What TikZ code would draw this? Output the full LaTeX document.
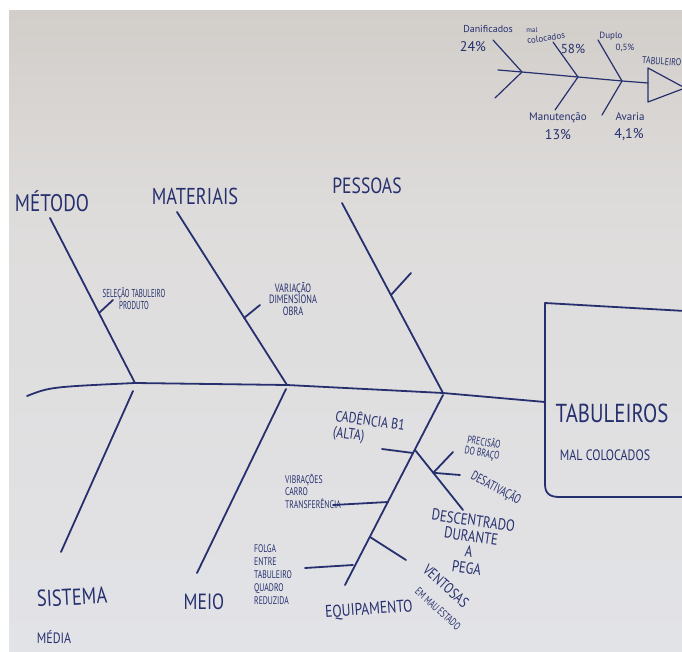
\documentclass[tikz,border=0pt]{standalone}
\usepackage{fontspec}
\usetikzlibrary{calc}
\newfontfamily\hand{PT Sans}
\newfontfamily\handn{PT Sans}[FakeStretch=0.8]
\newfontfamily\handc{PT Sans}[FakeStretch=0.7]
\newfontfamily\handx{PT Sans}[FakeStretch=0.6]
\newcommand\hfs[2]{\fontsize{#1}{#2}\selectfont}
\definecolor{inkc}{HTML}{26306E}
\definecolor{paperA}{HTML}{D2CECA}
\definecolor{paperB}{HTML}{DEDCDB}
\definecolor{paperC}{HTML}{E2E3E7}
\begin{document}
\begin{tikzpicture}[x=1pt,y=-1pt,
  ink/.style={draw=inkc,line width=1.8pt,line cap=round,line join=round},
  fineink/.style={ink,line width=1.2pt},
  lbl/.style={text=inkc,inner sep=0pt,align=center,font=\hand}]
\useasboundingbox (0,0) rectangle (682,652);
% sheet of paper on a white ground
\fill[white] (0,0) rectangle (682,652);
\shade[top color=paperA,bottom color=paperB] (9,11) rectangle (682,211);
\shade[top color=paperB,bottom color=paperC] (9,210) rectangle (682,652);

% ---------- summary fishbone (top right) ----------
\coordinate (ms0) at (498,70);
\coordinate (mj1) at (522,72);
\coordinate (mj2) at (578,77);
\coordinate (mj3) at (622,81);
\coordinate (mhead) at (648,83);
\coordinate (mt1) at (493,40);  \coordinate (mb1) at (495,98);
\coordinate (mt2) at (553,42);  \coordinate (mb2) at (555,110);
\coordinate (mt3) at (598,40);  \coordinate (mb3) at (602,115);
\draw[fineink] (ms0) -- (mj1) -- (mj2) -- (mj3) -- (mhead);
\draw[fineink] (mt1) -- (mj1) -- (mb1);
\draw[fineink] (mt2) -- (mj2) -- (mb2);
\draw[fineink] (mt3) -- (mj3) -- (mb3);
\draw[fineink] (648,68) -- (685,88) -- (648,102) -- cycle;
\node[lbl,font=\hand\hfs{10}{12}] (danif) at (488,29) {Danificados};
\node[lbl,font=\hand\hfs{14}{14}] (p24) at (473,47) {24\%};
\node[lbl,font=\hand\hfs{7}{8}] (mal) at (532,30) {mal};
\node[lbl,font=\hand\hfs{9}{10},rotate=8] (coloc) at (546,38) {colocados};
\node[lbl,font=\hand\hfs{13}{14}] (p58) at (573,49) {58\%};
\node[lbl,font=\hand\hfs{9}{10}] (duplo) at (611,36) {Duplo};
\node[lbl,font=\hand\hfs{9}{10}] (p05) at (625,48) {0,5\%};
\node[lbl,font=\handn\hfs{10}{10},anchor=west,rotate=-4] (mtab) at (642,60) {TABULEIRO};
\node[lbl,font=\hand\hfs{11}{12}] (manut) at (558,118) {Manutenção};
\node[lbl,font=\hand\hfs{14}{14}] (p13) at (558,135) {13\%};
\node[lbl,font=\hand\hfs{11}{12}] (avaria) at (630,117) {Avaria};
\node[lbl,font=\hand\hfs{14}{14}] (p41) at (629,135) {4,1\%};

% ---------- effect box ----------
\coordinate (boxTL) at (545,303);
\coordinate (boxTR) at (685,311);
\coordinate (boxL) at (545,402);
\coordinate (boxBL) at (545,484);
\coordinate (boxB) at (560,497);
\coordinate (boxBR) at (685,497);
\draw[ink] (boxTR) -- (boxTL) -- (boxBL) .. controls (545,494) and (550,497) .. (boxB) -- (boxBR);
\node[lbl,font=\handn\hfs{26}{26}] (effect) at (612,413) {TABULEIROS};
\node[lbl,font=\handn\hfs{15}{15}] (effect2) at (605,455) {MAL COLOCADOS};

% ---------- spine ----------
\coordinate (s0) at (27,396);
\coordinate (jM) at (135,383);
\coordinate (jMa) at (287,385);
\coordinate (jP) at (443,393);
\draw[ink] (s0) .. controls (50,387) .. (jM) -- (jMa) -- (jP) -- (boxL);

% ---------- upper causes ----------
\node[lbl,font=\handn\hfs{24}{24}] (metodo) at (52,201) {MÉTODO};
\node[lbl,font=\handn\hfs{23}{24}] (materiais) at (195,196) {MATERIAIS};
\node[lbl,font=\handn\hfs{22}{24}] (pessoas) at (367,186) {PESSOAS};
\coordinate (m0) at (50,218);
\coordinate (a0) at (177,212);
\coordinate (p0) at (342,203);
\draw[ink] (m0) -- (jM);
\draw[ink] (a0) -- (jMa);
\draw[ink] (p0) -- (jP);
% sub-causes on the upper bones
\coordinate (mt) at (99,313);   \coordinate (mte) at (113,300);
\coordinate (at) at (244,318);  \coordinate (ate) at (260,305);
\coordinate (pt) at (391,295);  \coordinate (pte) at (411,273);
\draw[ink] (mt) -- (mte);
\draw[ink] (at) -- (ate);
\draw[ink] (pt) -- (pte);
\node[lbl,font=\handx\hfs{11.5}{12}] (selecao) at (134,299) {SELEÇÃO TABULEIRO\\PRODUTO};
\node[lbl,font=\handc\hfs{12}{11.5}] (variacao) at (293,299) {VARIAÇÃO\\DIMENSIONA\\OBRA};

% ---------- lower causes ----------
\coordinate (b1s) at (133,391);  \coordinate (b1e) at (61,552);
\coordinate (b2s) at (286,389);  \coordinate (b2e) at (197,573);
\coordinate (b3s) at (443,395);  \coordinate (b3e) at (345,585);
\draw[ink] (b1s) -- (b1e);
\draw[ink] (b2s) -- (b2e);
\draw[ink] (b3s) -- (b3e);
\node[lbl,font=\handn\hfs{23}{24},rotate=3] (sistema) at (72,597) {SISTEMA};
\node[lbl,font=\handn\hfs{15}{15}] (media) at (54,637) {MÉDIA};
\node[lbl,font=\handn\hfs{22}{24}] (meio) at (204,602) {MEIO};
\node[lbl,font=\handn\hfs{17}{18},rotate=4] (equip) at (369,610) {EQUIPAMENTO};

% sub-causes on the equipment bone
\coordinate (cj) at (413,453);  \coordinate (ce) at (382,449);
\coordinate (d0) at (415,450);  \coordinate (d1) at (463,510);
\coordinate (dj) at ($(d0)!0.38!(d1)$);
\coordinate (dpe) at (453,452); \coordinate (dde) at (460,475);
\coordinate (vj) at (388,502);  \coordinate (ve) at (333,505);
\coordinate (tj) at (370,537);  \coordinate (te) at (406,560);
\coordinate (fj) at (353,565);  \coordinate (fe) at (305,568);
\draw[ink] (cj) -- (ce);
\draw[ink] (d0) -- (d1);
\draw[ink] (dj) -- (dpe);
\draw[ink] (dj) -- (dde);
\draw[ink] (vj) -- (ve);
\draw[ink] (tj) -- (te);
\draw[ink] (fj) -- (fe);

\node[lbl,font=\handn\hfs{15}{16},align=left,rotate=-8] (cadencia) at (369,429) {CADÊNCIA B1\\(ALTA)};
\node[lbl,font=\handc\hfs{11}{11},rotate=-10] (precisao) at (483,448) {PRECISÃO\\DO BRAÇO};
\node[lbl,font=\handc\hfs{13}{12},rotate=-28] (desat) at (496,488) {DESATIVAÇÃO};
\node[lbl,font=\handn\hfs{16}{16},rotate=-8] (descent) at (470,544) {DESCENTRADO\\DURANTE\\A\\PEGA};
\node[lbl,font=\handc\hfs{11}{12.5},align=left,anchor=north west] (vibr) at (285,474) {VIBRAÇÕES\\CARRO\\TRANSFERÊNCIA};
\node[lbl,font=\handn\hfs{15}{15},rotate=-42] (vent) at (446,586) {VENTOSAS};
\node[lbl,font=\handc\hfs{11}{10},rotate=-42] (vent2) at (438,609) {EM MAU ESTADO};
\node[lbl,font=\handc\hfs{11}{13},align=left,anchor=north west] (folga) at (254,544) {FOLGA\\ENTRE\\TABULEIRO\\QUADRO\\REDUZIDA};
\end{tikzpicture}
\end{document}
